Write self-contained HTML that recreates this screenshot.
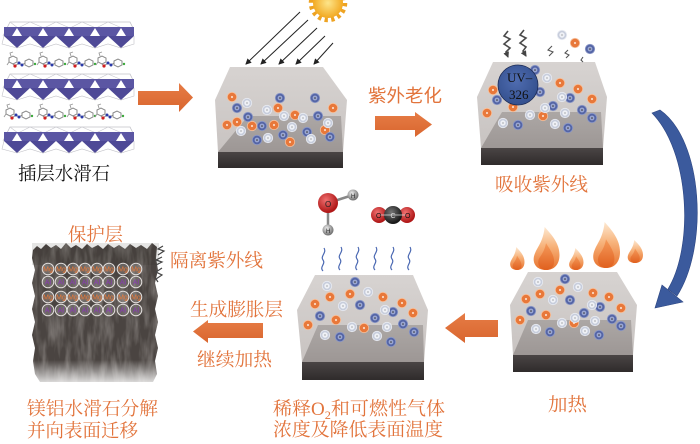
<!DOCTYPE html>
<html><head><meta charset="utf-8"><style>
html,body{margin:0;padding:0;background:#fff;}
svg{display:block;}
.t{font-family:"Liberation Serif","Noto Serif CJK SC",serif;font-size:18.5px;fill:#e2743c;}
.ts{font-family:"Liberation Sans","Noto Sans CJK SC",sans-serif;font-size:18px;fill:#e2743c;}
</style></head><body>
<svg width="700" height="444" viewBox="0 0 700 444" xmlns="http://www.w3.org/2000/svg">
<defs>
  <linearGradient id="body" x1="0" y1="0" x2="0" y2="1"><stop offset="0" stop-color="#d7d3d1"/><stop offset="1" stop-color="#c8c3c1"/></linearGradient>
  <linearGradient id="floor" x1="0" y1="0" x2="0" y2="1"><stop offset="0" stop-color="#aca7a5"/><stop offset="1" stop-color="#9d9795"/></linearGradient>
  <linearGradient id="base" x1="0" y1="0" x2="0" y2="1"><stop offset="0" stop-color="#4a4545"/><stop offset="1" stop-color="#2f2b2b"/></linearGradient>
  <linearGradient id="flo" x1="0" y1="0" x2="0" y2="1"><stop offset="0" stop-color="#fde9d2"/><stop offset="0.45" stop-color="#f7b27a"/><stop offset="1" stop-color="#e8732e"/></linearGradient>
  <linearGradient id="fli" x1="0" y1="0" x2="0" y2="1"><stop offset="0" stop-color="#f59a5a"/><stop offset="1" stop-color="#e0601f"/></linearGradient>
  <radialGradient id="sun" cx="0.5" cy="0.5" r="0.5"><stop offset="0" stop-color="#fde58a"/><stop offset="1" stop-color="#f2a922"/></radialGradient>
  <radialGradient id="red" cx="0.4" cy="0.35" r="0.6"><stop offset="0" stop-color="#f07070"/><stop offset="1" stop-color="#b01818"/></radialGradient>
  <radialGradient id="blk" cx="0.4" cy="0.35" r="0.6"><stop offset="0" stop-color="#777"/><stop offset="1" stop-color="#1a1a1a"/></radialGradient>
  <radialGradient id="gry" cx="0.4" cy="0.35" r="0.6"><stop offset="0" stop-color="#eee"/><stop offset="1" stop-color="#777"/></radialGradient>
  <radialGradient id="uv" cx="0.45" cy="0.4" r="0.6"><stop offset="0" stop-color="#4f6cb0"/><stop offset="1" stop-color="#34508e"/></radialGradient>
  <linearGradient id="fade" x1="0" y1="0" x2="0" y2="1"><stop offset="0" stop-color="#fff" stop-opacity="0"/><stop offset="1" stop-color="#fff" stop-opacity="1"/></linearGradient>
  <linearGradient id="arr" x1="0" y1="0" x2="0" y2="1"><stop offset="0" stop-color="#e67c45"/><stop offset="1" stop-color="#d9662f"/></linearGradient>
  <filter id="tex" x="0" y="0" width="100%" height="100%">
    <feTurbulence type="fractalNoise" baseFrequency="0.16 0.035" numOctaves="3" seed="5" result="n"/>
    <feColorMatrix in="n" type="matrix" values="0 0 0 0 0.50  0 0 0 0 0.47  0 0 0 0 0.45  1.6 0 0 0 -0.6" result="c"/>
    <feComposite in="c" in2="SourceGraphic" operator="in"/>
  </filter>
  <marker id="ah" markerWidth="6" markerHeight="6" refX="5" refY="3" orient="auto" markerUnits="userSpaceOnUse">
    <path d="M0,0 L6,3 L0,6 Z" fill="#222"/>
  </marker>
  <marker id="ah2" markerWidth="6" markerHeight="6" refX="5" refY="3" orient="auto" markerUnits="userSpaceOnUse">
    <path d="M0,0 L6,3 L0,6 Z" fill="#444"/>
  </marker>
  <g id="pO"><circle r="4.7" fill="#e8783a" stroke="#f6c09c" stroke-width="0.8"/><circle r="1.1" fill="#fbd9c2"/></g>
  <g id="pB"><circle r="4.7" fill="#5465a6" stroke="#8c98c6" stroke-width="0.8"/><circle r="2.4" fill="#9ba7d2"/><circle r="0.8" fill="#333"/></g>
  <g id="pL"><circle r="4.7" fill="#c7cddc" stroke="#e8ebf2" stroke-width="0.8"/><circle r="2.7" fill="#eff1f6"/><circle r="0.6" fill="#777"/></g>
  <g id="mol">
    <polygon points="3,5 7,3 11,5 11,9 7,11 3,9" fill="none" stroke="#8a8a8a" stroke-width="1"/>
    <polyline points="5,3 4,0 7,-1 M4,0 1,1" fill="none" stroke="#999" stroke-width="0.9"/>
    <polyline points="7,11 9,13 13,10 16,12 19,10" fill="none" stroke="#888" stroke-width="1"/>
    <polyline points="3,9 1,12" fill="none" stroke="#999" stroke-width="0.9"/>
    <polygon points="19,8 23,6 27,8 27,12 23,14 19,12" fill="none" stroke="#8a8a8a" stroke-width="1"/>
    <circle cx="9" cy="13" r="1.6" fill="#d02020"/>
    <circle cx="13" cy="10" r="1.5" fill="#2a3aa8"/>
    <circle cx="16" cy="12" r="1.5" fill="#2a3aa8"/>
    <circle cx="29" cy="11" r="1.2" fill="#3aa83a"/>
  </g>
  <g id="flame">
    <path d="M0,0 C-8,0 -11,-8 -8,-16 C-6,-22 -2,-27 -1,-40 C4,-33 10,-25 10,-14 C10,-5 6,0 0,0 Z" fill="url(#flo)"/>
    <path d="M0,0 C-5,0 -7,-6 -5,-11 C-3,-15 -1,-18 0,-25 C3,-19 6,-14 6,-8 C6,-3 4,0 0,0 Z" fill="url(#fli)"/>
  </g>
  <g id="layer">
    <polyline points="3,14 10,0 130,0 133,6" fill="none" stroke="#c2c2c8" stroke-width="0.8"/>
    <polyline points="10,0 18,6 30,0 44,6 56,0 70,6 82,0 96,6 108,0 122,6" fill="none" stroke="#c8c8ce" stroke-width="0.6"/>
    <rect x="4" y="5" width="130" height="9" fill="#5b56a3"/>
    <polygon points="12,14 17,6 22,14" fill="#fff"/>
    <polygon points="38,14 43,6 48,14" fill="#fff"/>
    <polygon points="64,14 69,6 74,14" fill="#fff"/>
    <polygon points="90,14 95,6 100,14" fill="#fff"/>
    <polygon points="116,14 121,6 126,14" fill="#fff"/>
    <polygon points="4,14 30,14 17,26" fill="#4e4996"/>
    <polygon points="30,14 56,14 43,26" fill="#4e4996"/>
    <polygon points="56,14 82,14 69,26" fill="#4e4996"/>
    <polygon points="82,14 108,14 95,26" fill="#4e4996"/>
    <polygon points="108,14 134,14 121,26" fill="#4e4996"/>
    <polyline points="4,14 2,22 17,26 30,22 43,26 56,22 69,26 82,22 95,26 108,22 121,26 134,22 134,14" fill="none" stroke="#c2c2c8" stroke-width="0.6"/>
  </g>
</defs>

<!-- ===== Top-left: intercalated LDH layers ===== -->
<use href="#layer" x="0" y="22"/>
<use href="#layer" x="0" y="74"/>
<use href="#layer" x="0" y="127"/>
<use href="#mol" x="6" y="53"/><use href="#mol" x="36" y="53"/><use href="#mol" x="66" y="53"/><use href="#mol" x="95" y="53"/>
<use href="#mol" x="3" y="105"/><use href="#mol" x="36" y="105"/><use href="#mol" x="66" y="105"/><use href="#mol" x="94" y="105"/>
<text x="18" y="180" textLength="92" lengthAdjust="spacingAndGlyphs" style="font-family:'Liberation Serif','Noto Serif CJK SC',serif;font-size:18.5px;fill:#111;">插层水滑石</text>

<!-- arrow 1 -->
<polygon points="138,91 179,91 179,83 193,97.5 179,112 179,105 138,105" fill="url(#arr)"/>

<!-- ===== Box 1 ===== -->
<polygon points="230,67 323,67 347,100 343,152 218,152 215,100" fill="url(#body)"/>
<polygon points="248,116 341,116 343,152 218,152" fill="url(#floor)"/>
<rect x="218" y="152" width="125" height="16" fill="url(#base)"/>
<g>
<use href="#pO" x="232" y="97"/><use href="#pO" x="237" y="122"/><use href="#pO" x="227" y="125"/><use href="#pO" x="252" y="126"/><use href="#pO" x="274" y="125"/><use href="#pO" x="278" y="108"/><use href="#pO" x="295" y="115"/><use href="#pO" x="333" y="108"/><use href="#pO" x="325" y="130"/><use href="#pO" x="290" y="142"/>
<use href="#pB" x="237" y="108"/><use href="#pB" x="248" y="117"/><use href="#pB" x="262" y="126"/><use href="#pB" x="280" y="98"/><use href="#pB" x="315" y="98"/><use href="#pB" x="318" y="116"/><use href="#pB" x="307" y="132"/><use href="#pB" x="330" y="137"/><use href="#pB" x="283" y="135"/><use href="#pB" x="257" y="140"/>
<use href="#pL" x="247" y="103"/><use href="#pL" x="267" y="110"/><use href="#pL" x="284" y="116"/><use href="#pL" x="303" y="118"/><use href="#pL" x="328" y="123"/><use href="#pL" x="292" y="127"/><use href="#pL" x="268" y="138"/><use href="#pL" x="241" y="131"/><use href="#pL" x="311" y="139"/>
</g>
<!-- sun -->
<circle cx="328" cy="3" r="17" fill="none" stroke="#eea322" stroke-width="4.5" stroke-dasharray="3.3 3.4"/>
<circle cx="328" cy="3" r="15" fill="url(#sun)"/>
<!-- rays -->
<g stroke="#222" stroke-width="1" marker-end="url(#ah)">
<line x1="300" y1="12" x2="246" y2="64"/>
<line x1="308" y1="20" x2="261" y2="64"/>
<line x1="317" y1="28" x2="279" y2="64"/>
<line x1="325" y1="36" x2="296" y2="64"/>
<line x1="333" y1="43" x2="314" y2="64"/>
</g>

<text class="ts" x="368" y="102" textLength="74" lengthAdjust="spacingAndGlyphs">紫外老化</text>
<polygon points="375,116 415,116 415,112 432,124.5 415,137 415,130 375,130" fill="url(#arr)"/>

<!-- ===== Box 2 ===== -->
<polygon points="493,62 595,62 607,97 603,148 481,148 477,97" fill="url(#body)"/>
<polygon points="502,112 601,112 603,148 481,148" fill="url(#floor)"/>
<rect x="481" y="148" width="122" height="17" fill="url(#base)"/>
<g>
<use href="#pO" x="560" y="83"/><use href="#pO" x="578" y="89"/><use href="#pO" x="592" y="99"/><use href="#pO" x="493" y="90"/><use href="#pO" x="513" y="107"/><use href="#pO" x="487" y="113"/><use href="#pO" x="543" y="116"/>
<use href="#pB" x="535" y="70"/><use href="#pB" x="570" y="98"/><use href="#pB" x="553" y="106"/><use href="#pB" x="497" y="100"/><use href="#pB" x="582" y="110"/><use href="#pB" x="592" y="118"/><use href="#pB" x="518" y="125"/><use href="#pB" x="568" y="128"/><use href="#pB" x="540" y="92"/>
<use href="#pL" x="547" y="78"/><use href="#pL" x="562" y="97"/><use href="#pL" x="530" y="115"/><use href="#pL" x="545" y="108"/><use href="#pL" x="565" y="113"/><use href="#pL" x="503" y="123"/><use href="#pL" x="555" y="124"/>
</g>
<circle cx="518" cy="85" r="20" fill="url(#uv)" stroke="#1d2b55" stroke-width="0.8"/>
<text x="507" y="82" style="font-family:'Liberation Serif',serif;font-size:13px;fill:#111;">UV–</text>
<text x="509" y="99" style="font-family:'Liberation Serif',serif;font-size:13px;fill:#111;">326</text>
<!-- lightning arrows -->
<g fill="none" stroke="#4a4a4a" stroke-width="1.6" marker-end="url(#ah2)">
<path d="M508,31 L504,36 L510,39 L504,44 L510,48 L506,52 L508,57"/>
<path d="M524,30 L520,35 L526,38 L520,43 L526,47 L523,51 L526,56"/>
</g>
<g fill="none" stroke="#555" stroke-width="1.1">
<path d="M552,46 L548,50 L553,52 L549,56"/>
<path d="M568,50 L565,53 L569,55 L566,58"/>
<path d="M583,57 L581,60 L583,62"/>
</g>
<use href="#pL" x="562" y="35"/><use href="#pO" x="575" y="43"/><use href="#pB" x="590" y="49"/>
<text class="t" x="495" y="191" textLength="93" lengthAdjust="spacingAndGlyphs">吸收紫外线</text>

<!-- curved blue arrow -->
<path d="M652,113 L660,110 C703,140 709,246 677,296 L668,289 C694,246 690,152 652,113 Z" fill="#3b5a9d" stroke="#2c4582" stroke-width="0.6"/>
<polygon points="655,308 662,285 683,302" fill="#3b5a9d" stroke="#2c4582" stroke-width="0.6"/>

<!-- ===== Box 3 (heating) ===== -->
<use href="#flame" transform="translate(517,270) scale(0.75,0.575)"/>
<use href="#flame" transform="translate(546,270) scale(1.35,1.075)"/>
<use href="#flame" transform="translate(576,270) scale(0.75,0.55)"/>
<use href="#flame" transform="translate(606,268) scale(1.4,1.15)"/>
<use href="#flame" transform="translate(635,263) scale(0.8,0.575)"/>
<polygon points="528,272 617,272 637,305 633,355 513,355 510,305" fill="url(#body)"/>
<polygon points="528,320 631,320 633,355 513,355" fill="url(#floor)"/>
<rect x="513" y="355" width="120" height="17" fill="url(#base)"/>
<g>
<use href="#pO" x="540" y="294"/><use href="#pO" x="560" y="290"/><use href="#pO" x="526" y="299"/><use href="#pO" x="593" y="293"/><use href="#pO" x="609" y="297"/><use href="#pO" x="621" y="308"/><use href="#pO" x="546" y="315"/><use href="#pO" x="520" y="320"/><use href="#pO" x="574" y="323"/>
<use href="#pB" x="565" y="279"/><use href="#pB" x="570" y="300"/><use href="#pB" x="600" y="307"/><use href="#pB" x="531" y="311"/><use href="#pB" x="584" y="313"/><use href="#pB" x="612" y="319"/><use href="#pB" x="621" y="326"/><use href="#pB" x="550" y="332"/><use href="#pB" x="599" y="335"/>
<use href="#pL" x="538" y="282"/><use href="#pL" x="578" y="287"/><use href="#pL" x="553" y="300"/><use href="#pL" x="592" y="305"/><use href="#pL" x="575" y="318"/><use href="#pL" x="595" y="321"/><use href="#pL" x="562" y="323"/><use href="#pL" x="536" y="329"/><use href="#pL" x="585" y="331"/>
</g>
<text class="t" x="548" y="411" textLength="39" lengthAdjust="spacingAndGlyphs">加热</text>

<!-- arrow 3 (left) -->
<polygon points="498,320 465,320 465,313 445,328 465,343 465,337 498,337" fill="url(#arr)"/>

<!-- ===== Box 4 ===== -->
<line x1="328" y1="203" x2="353" y2="195" stroke="#888" stroke-width="2.5"/>
<line x1="328" y1="203" x2="328" y2="230" stroke="#888" stroke-width="2.5"/>
<circle cx="353" cy="195" r="5.5" fill="url(#gry)"/>
<circle cx="328" cy="230" r="5.5" fill="url(#gry)"/>
<circle cx="328" cy="203" r="10" fill="url(#red)"/>
<text x="325" y="207" style="font-family:'Liberation Sans',sans-serif;font-size:8px;fill:#222;">O</text>
<text x="351" y="198" style="font-family:'Liberation Sans',sans-serif;font-size:6px;fill:#222;">H</text>
<text x="326" y="233" style="font-family:'Liberation Sans',sans-serif;font-size:6px;fill:#222;">H</text>
<circle cx="379" cy="215" r="8" fill="url(#red)"/>
<circle cx="407" cy="215" r="8" fill="url(#red)"/>
<circle cx="393" cy="215" r="9" fill="url(#blk)"/>
<line x1="380" y1="215" x2="406" y2="215" stroke="#ddd" stroke-width="0.8"/>
<text x="376" y="218" style="font-family:'Liberation Sans',sans-serif;font-size:7px;fill:#111;">O</text>
<text x="390.5" y="218" style="font-family:'Liberation Sans',sans-serif;font-size:7px;fill:#ddd;">C</text>
<text x="405" y="218" style="font-family:'Liberation Sans',sans-serif;font-size:7px;fill:#111;">O</text>
<g fill="none" stroke="#4a68b2" stroke-width="1.2">
<path d="M323,271 c-4,-4 3,-7 0,-11 c-3,-4 4,-7 1,-12"/>
<path d="M340,270 c-4,-4 3,-7 0,-11 c-3,-4 4,-7 1,-12"/>
<path d="M357,270 c-4,-4 3,-7 0,-11 c-3,-4 4,-7 1,-12"/>
<path d="M375,270 c-4,-4 3,-7 0,-11 c-3,-4 4,-7 1,-12"/>
<path d="M392,270 c-4,-4 3,-7 0,-11 c-3,-4 4,-7 1,-12"/>
<path d="M409,270 c-4,-4 3,-7 0,-11 c-3,-4 4,-7 1,-12"/>
</g>
<polygon points="315,275 413,275 428,310 424,362 302,362 297,310" fill="url(#body)"/>
<polygon points="318,325 423,325 424,362 302,362" fill="url(#floor)"/>
<rect x="302" y="362" width="122" height="18" fill="url(#base)"/>
<g>
<use href="#pO" x="330" y="297"/><use href="#pO" x="350" y="294"/><use href="#pO" x="383" y="297"/><use href="#pO" x="402" y="303"/><use href="#pO" x="315" y="304"/><use href="#pO" x="413" y="313"/><use href="#pO" x="336" y="320"/><use href="#pO" x="308" y="325"/><use href="#pO" x="364" y="328"/>
<use href="#pB" x="355" y="282"/><use href="#pB" x="360" y="305"/><use href="#pB" x="393" y="312"/><use href="#pB" x="320" y="316"/><use href="#pB" x="375" y="318"/><use href="#pB" x="403" y="324"/><use href="#pB" x="414" y="332"/><use href="#pB" x="340" y="337"/><use href="#pB" x="391" y="342"/>
<use href="#pL" x="327" y="286"/><use href="#pL" x="368" y="292"/><use href="#pL" x="343" y="306"/><use href="#pL" x="385" y="310"/><use href="#pL" x="352" y="327"/><use href="#pL" x="387" y="327"/><use href="#pL" x="325" y="335"/><use href="#pL" x="377" y="336"/>
</g>
<text class="t" x="273" y="415" textLength="172" lengthAdjust="spacingAndGlyphs">稀释O<tspan font-size="12" dy="4">2</tspan><tspan dy="-4">和可燃性气体</tspan></text>
<text class="t" x="273" y="436" textLength="170" lengthAdjust="spacingAndGlyphs">浓度及降低表面温度</text>

<!-- arrow 4 (left) + labels -->
<text class="t" x="190" y="316" textLength="93" lengthAdjust="spacingAndGlyphs">生成膨胀层</text>
<polygon points="263,323 208,323 208,320 193,331.5 208,343 208,338 263,338" fill="url(#arr)"/>
<text class="t" x="197" y="366" textLength="75" lengthAdjust="spacingAndGlyphs">继续加热</text>

<!-- ===== Bottom-left: protective char layer ===== -->
<text class="t" x="68" y="241" textLength="55" lengthAdjust="spacingAndGlyphs">保护层</text>
<polygon points="33,250 37,246 41,249 46,244 51,248 56,245 61,249 66,243 71,248 76,245 82,249 87,244 92,248 98,245 103,249 108,244 114,248 119,245 125,249 130,244 136,248 141,245 147,249 152,243 157,247 156,258 158,270 155,283 158,296 155,309 158,322 155,335 158,348 155,361 157,374 153,382 40,382 35,374 33,361 35,348 32,335 35,322 32,309 35,296 32,283 35,270 32,258" fill="#4a4441"/>
<polygon points="33,250 37,246 41,249 46,244 51,248 56,245 61,249 66,243 71,248 76,245 82,249 87,244 92,248 98,245 103,249 108,244 114,248 119,245 125,249 130,244 136,248 141,245 147,249 152,243 157,247 156,258 158,270 155,283 158,296 155,309 158,322 155,335 158,348 155,361 157,374 153,382 40,382 35,374 33,361 35,348 32,335 35,322 32,309 35,296 32,283 35,270 32,258" fill="#000" filter="url(#tex)" opacity="0.55"/>
<rect x="32" y="243" width="127" height="22" fill="#2a2624" opacity="0.12"/>
<rect x="28" y="360" width="135" height="28" fill="url(#fade)"/>
<g font-family="Liberation Sans, sans-serif" font-size="7" text-anchor="middle">
<g fill="#b0aba8" fill-opacity="0.3" stroke="#e2dedc" stroke-width="1">
<circle cx="48" cy="269" r="5.8"/><circle cx="61" cy="269" r="5.8"/><circle cx="73" cy="269" r="5.8"/><circle cx="85" cy="269" r="5.8"/><circle cx="97" cy="269" r="5.8"/><circle cx="109" cy="269" r="5.8"/><circle cx="123" cy="269" r="5.8"/><circle cx="136" cy="269" r="5.8"/>
<circle cx="48" cy="282" r="5.8"/><circle cx="61" cy="282" r="5.8"/><circle cx="73" cy="282" r="5.8"/><circle cx="85" cy="282" r="5.8"/><circle cx="97" cy="282" r="5.8"/><circle cx="109" cy="282" r="5.8"/><circle cx="123" cy="282" r="5.8"/><circle cx="136" cy="282" r="5.8"/>
<circle cx="48" cy="297" r="5.8"/><circle cx="61" cy="297" r="5.8"/><circle cx="73" cy="297" r="5.8"/><circle cx="85" cy="297" r="5.8"/><circle cx="97" cy="297" r="5.8"/><circle cx="109" cy="297" r="5.8"/><circle cx="123" cy="297" r="5.8"/><circle cx="136" cy="297" r="5.8"/>
<circle cx="48" cy="310" r="5.8"/><circle cx="61" cy="310" r="5.8"/><circle cx="73" cy="310" r="5.8"/><circle cx="85" cy="310" r="5.8"/><circle cx="97" cy="310" r="5.8"/><circle cx="109" cy="310" r="5.8"/><circle cx="123" cy="310" r="5.8"/><circle cx="136" cy="310" r="5.8"/>
</g>
<g fill="#ee7a36">
<text x="48" y="271.5">Mg</text><text x="61" y="271.5">Mg</text><text x="73" y="271.5">Mg</text><text x="85" y="271.5">Mg</text><text x="97" y="271.5">Mg</text><text x="109" y="271.5">Mg</text><text x="123" y="271.5">Mg</text><text x="136" y="271.5">Mg</text>
<text x="48" y="299.5">Mg</text><text x="61" y="299.5">Mg</text><text x="73" y="299.5">Mg</text><text x="85" y="299.5">Mg</text><text x="97" y="299.5">Mg</text><text x="109" y="299.5">Mg</text><text x="123" y="299.5">Mg</text><text x="136" y="299.5">Mg</text>
</g>
<g fill="#8a3ab6">
<text x="48" y="284.5">Al</text><text x="61" y="284.5">Al</text><text x="73" y="284.5">Al</text><text x="85" y="284.5">Al</text><text x="97" y="284.5">Al</text><text x="109" y="284.5">Al</text><text x="123" y="284.5">Al</text><text x="136" y="284.5">Al</text>
<text x="48" y="312.5">Al</text><text x="61" y="312.5">Al</text><text x="73" y="312.5">Al</text><text x="85" y="312.5">Al</text><text x="97" y="312.5">Al</text><text x="109" y="312.5">Al</text><text x="123" y="312.5">Al</text><text x="136" y="312.5">Al</text>
</g>
</g>
<g fill="none" stroke="#444" stroke-width="1.2">
<path d="M163,246 L158,249 L164,251 L158,255"/>
<path d="M162,257 L156,260 L162,262 L156,265"/>
<path d="M162,268 L156,272 L162,275 L156,279 L158,282"/>
</g>
<text class="t" x="170" y="267" textLength="93" lengthAdjust="spacingAndGlyphs">隔离紫外线</text>
<text class="t" x="27" y="415" textLength="131" lengthAdjust="spacingAndGlyphs">镁铝水滑石分解</text>
<text class="t" x="27" y="437" textLength="111" lengthAdjust="spacingAndGlyphs">并向表面迁移</text>
</svg>
</body></html>
